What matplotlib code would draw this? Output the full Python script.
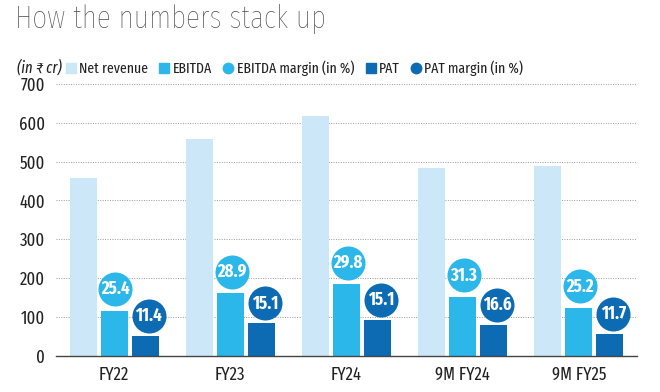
import matplotlib
matplotlib.use("Agg")
import matplotlib.pyplot as plt
from matplotlib.lines import Line2D
import numpy as np

periods = ["FY22", "FY23", "FY24", "9M FY24", "9M FY25"]
revenue = [457, 557, 617, 483, 489]
ebitda = [116, 161, 184, 151, 123]
pat = [52, 84, 93, 80, 57]
ebitda_margin = [25.4, 28.9, 29.8, 31.3, 25.2]
pat_margin = [11.4, 15.1, 15.1, 16.6, 11.7]

c_rev = "#cbe7f8"
c_ebitda = "#2cb7ea"
c_pat = "#0d6bb3"

plt.rcParams["font.family"] = ["Fira Sans Extra Condensed", "DejaVu Sans"]

fig = plt.figure(figsize=(6.6, 3.92), dpi=100)
ax = fig.add_axes([0.085, 0.092, 0.88, 0.694])

x = np.arange(len(periods))
w = 0.235
step = 0.267
ax.bar(x - step, revenue, w, color=c_rev, zorder=2)
ax.bar(x, ebitda, w, color=c_ebitda, zorder=2)
ax.bar(x + step, pat, w, color=c_pat, zorder=2)

# margin bubbles sit just above the bars
ax.scatter(x + 0.01, np.array(ebitda) + 56, s=600, color=c_ebitda, zorder=3, linewidths=0)
ax.scatter(x + step + 0.03, np.array(pat) + 51, s=600, color=c_pat, zorder=3, linewidths=0)
for i in range(len(periods)):
    ax.text(x[i] + 0.01, ebitda[i] + 56, f"{ebitda_margin[i]:.1f}", color="white",
            ha="center", va="center", fontsize=13, fontweight="bold", zorder=4)
    ax.text(x[i] + step + 0.03, pat[i] + 51, f"{pat_margin[i]:.1f}", color="white",
            ha="center", va="center", fontsize=13, fontweight="bold", zorder=4)

ax.set_xlim(-0.5, 4.5)
ax.set_ylim(0, 700)
ax.set_yticks(range(0, 701, 100))
ax.set_xticks(x)
ax.set_xticklabels(periods)
ax.grid(axis="y", linestyle=(0, (1, 1.5)), color="#999999", linewidth=0.7, zorder=0)
for s in ["top", "right", "left"]:
    ax.spines[s].set_visible(False)
ax.spines["bottom"].set_color("#444444")
ax.spines["bottom"].set_linewidth(1.0)
ax.tick_params(length=0, labelsize=13, colors="#222222")
ax.tick_params(axis="y", pad=8)
ax.tick_params(axis="x", pad=7)

fig.text(0.022, 0.99, "How the numbers stack up", fontsize=23, color="#4a4a4a",
         fontweight="light", va="top", ha="left")
fig.text(0.026, 0.828, "(in ₹ cr)", fontsize=11.5, style="italic", color="#222222",
         va="center", ha="left")

handles = [
    Line2D([], [], marker="s", linestyle="none", color=c_rev, markersize=6.5),
    Line2D([], [], marker="s", linestyle="none", color=c_ebitda, markersize=6.5),
    Line2D([], [], marker="o", linestyle="none", color=c_ebitda, markersize=7.5),
    Line2D([], [], marker="s", linestyle="none", color=c_pat, markersize=6.5),
    Line2D([], [], marker="o", linestyle="none", color=c_pat, markersize=7.5),
]
labels = ["Net revenue", "EBITDA", "EBITDA margin (in %)", "PAT", "PAT margin (in %)"]
fig.legend(handles, labels, ncol=5, loc="center left", bbox_to_anchor=(0.09, 0.826),
           frameon=False, fontsize=10.8, handlelength=0.5, handletextpad=0.3,
           columnspacing=0.85, borderpad=0, labelcolor="#222222")

fig.savefig("out.png", dpi=100)
